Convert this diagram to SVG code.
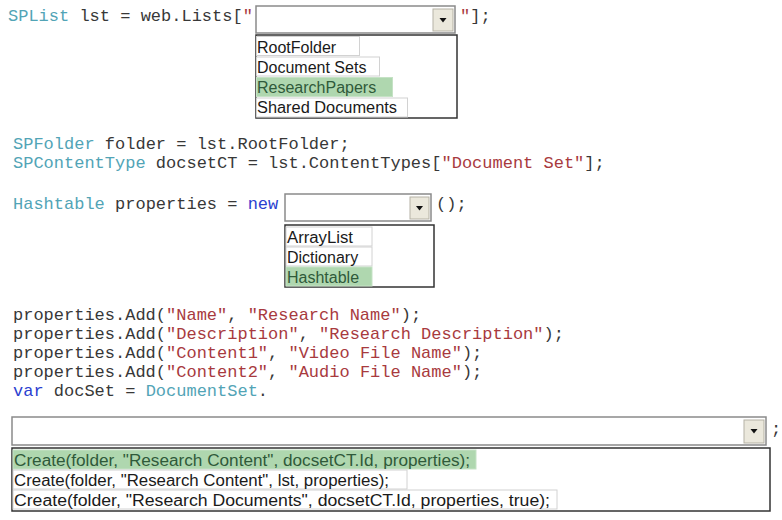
<svg xmlns="http://www.w3.org/2000/svg" width="782" height="520" viewBox="0 0 782 520">
<style>
.code{font-family:"Liberation Mono","Courier New",monospace;font-size:17px;fill:#383838}
.kw{fill:#2b3fd0}
.ty{fill:#52a4b6}
.st{fill:#a83a3e}
.item{font-family:"Liberation Sans",Arial,sans-serif;font-size:16px;fill:#1a1a1a}
.sel{fill:#2f5a3a}
.combo{fill:#fff;stroke:#8a8a8a;stroke-width:1.5}
.btn{fill:#ebe8dc;stroke:#b5b2a5;stroke-width:1}
.list{fill:#fff;stroke:#333;stroke-width:1.5}
.opt{fill:#fff;stroke:#d2d2d2;stroke-width:1}
.optsel{fill:#afd7af;stroke:#c5e2c5;stroke-width:1}
</style>
<defs>
<polygon id="tri" points="-3.5,-2 3.5,-2 0,2.5" fill="#111"/>
</defs>
<rect width="782" height="520" fill="#fff"/>

<g id="line1">
<text class="code" x="8" y="21"><tspan class="ty">SPList</tspan> lst = web.Lists[<tspan class="st">"</tspan></text>
<text class="code" x="460" y="21"><tspan class="st">"</tspan>];</text>
</g>

<g id="combo1">
<rect class="combo" x="256" y="6" width="199" height="27"/>
<rect class="btn" x="433" y="9" width="20" height="22"/>
<use href="#tri" x="443" y="20"/>
</g>

<g id="list1">
<rect class="list" x="256" y="35" width="201" height="83"/>
<rect class="opt" x="256.5" y="36.5" width="103" height="19"/>
<text class="item" x="257" y="53">RootFolder</text>
<rect class="opt" x="256.5" y="57" width="123" height="19"/>
<text class="item" x="257" y="73">Document Sets</text>
<rect class="optsel" x="256.5" y="77.5" width="136" height="19"/>
<text class="item sel" x="257" y="93">ResearchPapers</text>
<rect class="opt" x="256.5" y="98" width="151" height="19"/>
<text class="item" x="257" y="113" textLength="140" lengthAdjust="spacingAndGlyphs">Shared Documents</text>
</g>

<g id="line2">
<text class="code" x="13" y="149"><tspan class="ty">SPFolder</tspan> folder = lst.RootFolder;</text>
</g>
<g id="line3">
<text class="code" x="13" y="168"><tspan class="ty">SPContentType</tspan> docsetCT = lst.ContentTypes[<tspan class="st">"Document Set"</tspan>];</text>
</g>
<g id="line4">
<text class="code" x="13" y="209"><tspan class="ty">Hashtable</tspan> properties = <tspan class="kw">new</tspan></text>
<text class="code" x="436" y="209">();</text>
</g>

<g id="combo2">
<rect class="combo" x="285" y="194" width="146" height="27"/>
<rect class="btn" x="410" y="197" width="19" height="22"/>
<use href="#tri" x="419.5" y="208"/>
</g>

<g id="list2">
<rect class="list" x="285" y="225" width="149" height="62"/>
<rect class="opt" x="286" y="227" width="86" height="19"/>
<text class="item" x="287" y="243" textLength="66" lengthAdjust="spacingAndGlyphs">ArrayList</text>
<rect class="opt" x="286" y="247" width="86" height="19"/>
<text class="item" x="287" y="263">Dictionary</text>
<rect class="optsel" x="286" y="267" width="86" height="19"/>
<text class="item sel" x="287" y="283">Hashtable</text>
</g>

<g id="line5">
<text class="code" x="13" y="320">properties.Add(<tspan class="st">"Name"</tspan>, <tspan class="st">"Research Name"</tspan>);</text>
</g>
<g id="line6">
<text class="code" x="13" y="339">properties.Add(<tspan class="st">"Description"</tspan>, <tspan class="st">"Research Description"</tspan>);</text>
</g>
<g id="line7">
<text class="code" x="13" y="358">properties.Add(<tspan class="st">"Content1"</tspan>, <tspan class="st">"Video File Name"</tspan>);</text>
</g>
<g id="line8">
<text class="code" x="13" y="377">properties.Add(<tspan class="st">"Content2"</tspan>, <tspan class="st">"Audio File Name"</tspan>);</text>
</g>
<g id="line9">
<text class="code" x="13" y="396"><tspan class="kw">var</tspan> docSet = <tspan class="ty">DocumentSet</tspan>.</text>
</g>

<g id="combo3">
<rect class="combo" x="12" y="417" width="754" height="28"/>
<rect class="btn" x="744" y="420" width="20" height="23"/>
<use href="#tri" x="754" y="431"/>
<text class="code" x="771" y="434">;</text>
</g>

<g id="list3">
<rect class="list" x="12" y="448" width="758" height="63"/>
<rect class="optsel" x="13" y="450" width="463" height="19"/>
<text class="item sel" x="14" y="466" textLength="456" lengthAdjust="spacingAndGlyphs">Create(folder, "Research Content", docsetCT.Id, properties);</text>
<rect class="opt" x="13" y="470" width="394" height="19"/>
<text class="item" x="14" y="486" textLength="375" lengthAdjust="spacingAndGlyphs">Create(folder, "Research Content", lst, properties);</text>
<rect class="opt" x="13" y="490" width="544" height="19"/>
<text class="item" x="14" y="506" textLength="536" lengthAdjust="spacingAndGlyphs">Create(folder, "Research Documents", docsetCT.Id, properties, true);</text>
</g>
</svg>
